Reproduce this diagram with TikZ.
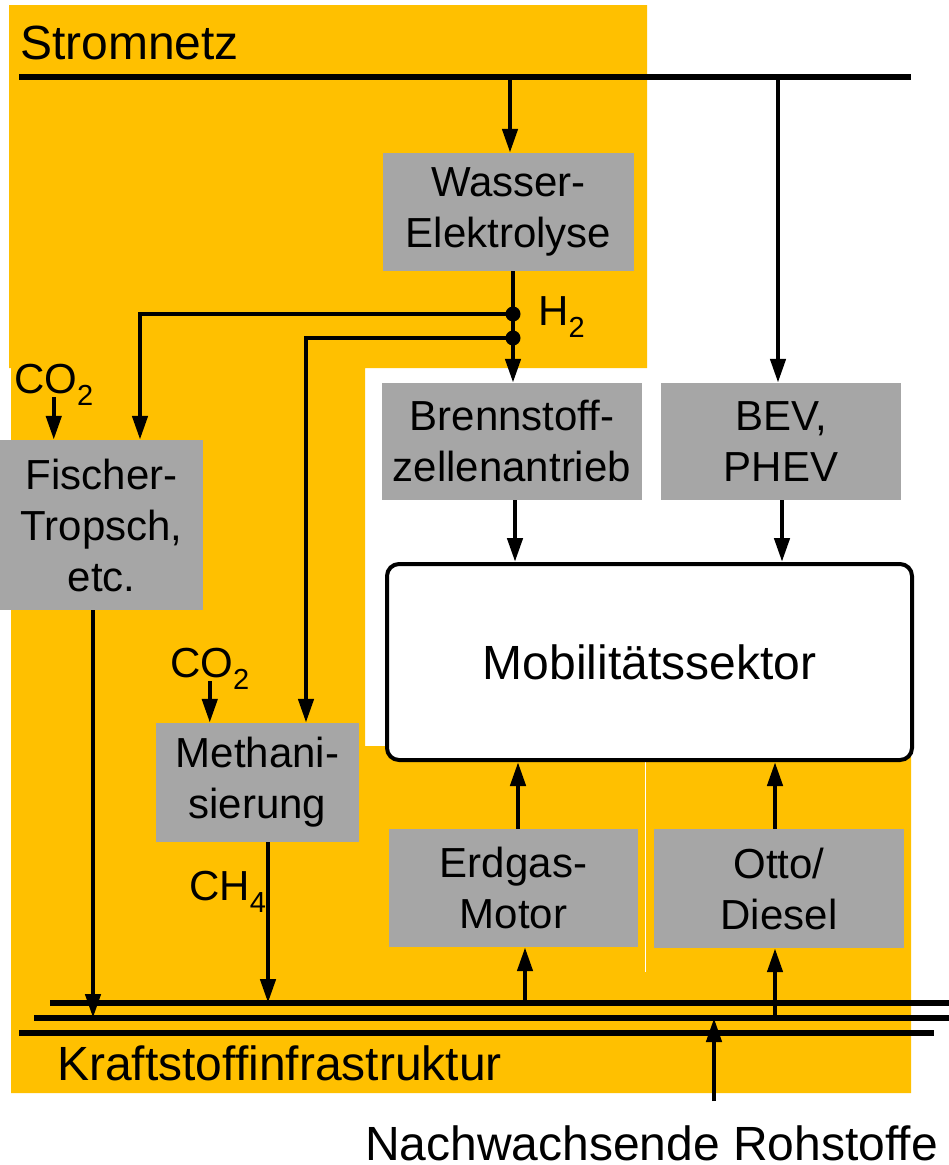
\documentclass[tikz,border=0pt]{standalone}
\usepackage{fontspec}
\setmainfont{Liberation Sans}
\usetikzlibrary{arrows.meta,calc}
\definecolor{orng}{HTML}{FFC000}
\definecolor{boxgray}{HTML}{A6A6A6}
\newcommand\mysub[1]{\raisebox{-12pt}{\fontsize{29}{29}\selectfont #1}}
\begin{document}
\begin{tikzpicture}[x=1pt,y=-1pt,
  graybox/.style={fill=boxgray, inner sep=0pt, align=center, font=\fontsize{42}{51}\selectfont},
  arr/.style={line width=4.5pt, -{Triangle[length=24pt,width=15pt]}},
  conn/.style={line width=4.5pt},
  rail/.style={line width=5.5pt},
  biglbl/.style={inner sep=0pt, anchor=base west, font=\fontsize{48}{56}\selectfont},
  chem/.style={inner sep=0pt, anchor=base west, font=\fontsize{42}{51}\selectfont}]
\useasboundingbox (0,0) rectangle (949,1165);
% background
\fill[orng] (9,5) -- (647,5) -- (647,368) -- (365,368) -- (365,746) -- (911,746)
  -- (911,1093) -- (11,1093) -- (11,368) -- (9,368) -- cycle;
\draw[white, line width=1pt] (645.5,746) -- (645.5,972);

% labels
\node[biglbl] (strom) at (20,59) {Stromnetz};
\node[biglbl] (kraft) at (57,1080) {Kraftstoffinfrastruktur};
\node[biglbl] (nachw) at (365,1160) {Nachwachsende Rohstoffe};
\node[chem] (hzwei) at (538,325) {H\mysub{2}};
\node[chem] (co2a) at (14,393) {CO\mysub{2}};
\node[chem] (co2b) at (170,677) {CO\mysub{2}};
\node[chem] (ch4) at (189,900) {CH\mysub{4}};

% boxes
\node[graybox, minimum width=251pt, minimum height=118pt] (wasser) at (508.5,212) {Wasser-\\Elektrolyse};
\node[graybox, minimum width=260pt, minimum height=117pt] (brenn) at (512,441.5) {Brennstoff-\\zellenantrieb};
\node[graybox, minimum width=240pt, minimum height=117pt] (bev) at (781,441.5) {BEV,\\PHEV};
\node[graybox, minimum width=203pt, minimum height=170pt] (fischer) at (101.5,525) {Fischer-\\Tropsch,\\etc.};
\node[graybox, minimum width=203pt, minimum height=119pt] (meth) at (257.5,782.5) {Methani-\\sierung};
\node[graybox, minimum width=249pt, minimum height=118pt] (erd) at (513.5,888) {Erdgas-\\Motor};
\node[graybox, minimum width=250pt, minimum height=119pt] (otto) at (779,888.5) {Otto/\\Diesel};
\node[draw, fill=white, line width=4pt, rounded corners=12pt, minimum width=525pt, minimum height=196pt,
  inner sep=0pt, font=\fontsize{48}{56}\selectfont] (mob) at (649.5,662) {Mobilitätssektor};

% rails
\coordinate (sa) at (19,77);
\coordinate (sb) at (911,77);
\draw[rail] (sa) -- (sb);
\coordinate (l1a) at (50,1003);
\coordinate (l1b) at (949,1003);
\coordinate (l2a) at (34,1018);
\coordinate (l2b) at (949,1018);
\coordinate (l3a) at (19,1033);
\coordinate (l3b) at (934,1033);
\draw[rail] (l1a) -- (l1b);
\draw[rail] (l2a) -- (l2b);
\draw[rail] (l3a) -- (l3b);

% anchor points on boxes
\coordinate (wIn) at ($(wasser.north)+(1.5,0)$);
\coordinate (bIn) at ($(bev.north)+(-3,0)$);
\coordinate (fIn) at ($(fischer.north)+(38.5,0)$);
\coordinate (mIn) at ($(meth.north)+(48.5,0)$);
\coordinate (fOut) at ($(fischer.south)+(-8.5,0)$);
\coordinate (mOut) at ($(meth.south)+(10.5,0)$);
\coordinate (brOut) at ($(brenn.south)+(3,0)$);
\coordinate (bvOut) at ($(bev.south)+(1,0)$);
\coordinate (eOut) at ($(erd.north)+(4.5,0)$);
\coordinate (oOut) at ($(otto.north)+(-4,0)$);
\coordinate (eIn) at ($(erd.south)+(11.5,0)$);
\coordinate (oIn) at ($(otto.south)+(-4,0)$);

% Stromnetz connections
\draw[arr] (wIn |- sa) -- (wIn);
\draw[arr] (bIn |- sa) -- (bIn);

% H2 distribution
\coordinate (h1) at (513,314);
\coordinate (h2) at (513,338);
\draw[conn] (h1 |- wasser.south) -- (h2);
\draw[arr] (h2) -- (h2 |- brenn.north);
\draw[arr] (h1) -| (fIn);
\draw[arr] (h2) -| (mIn);
\fill (h1) circle (7.5pt);
\fill (h2) circle (7.5pt);

% CO2 inputs
\draw[arr] ([yshift=8pt]co2a.south) -- (co2a.south |- fischer.north);
\draw[arr] ([yshift=8pt]co2b.south) -- (co2b.south |- meth.north);

% fuel production to infrastructure
\draw[arr] (fOut) -- (fOut |- l2a);
\draw[arr] (mOut) -- (mOut |- l1a);

% drives to mobility sector
\draw[arr] (brOut) -- (brOut |- mob.north);
\draw[arr] (bvOut) -- (bvOut |- mob.north);
\draw[arr] (eOut) -- (eOut |- mob.south);
\draw[arr] (oOut) -- (oOut |- mob.south);

% infrastructure to engines
\draw[arr] (eIn |- l1a) -- (eIn);
\draw[arr] (oIn |- l2a) -- (oIn);

% renewable raw materials
\coordinate (rs) at (714,1101);
\draw[arr] (rs) -- (rs |- l2a);
\end{tikzpicture}
\end{document}
